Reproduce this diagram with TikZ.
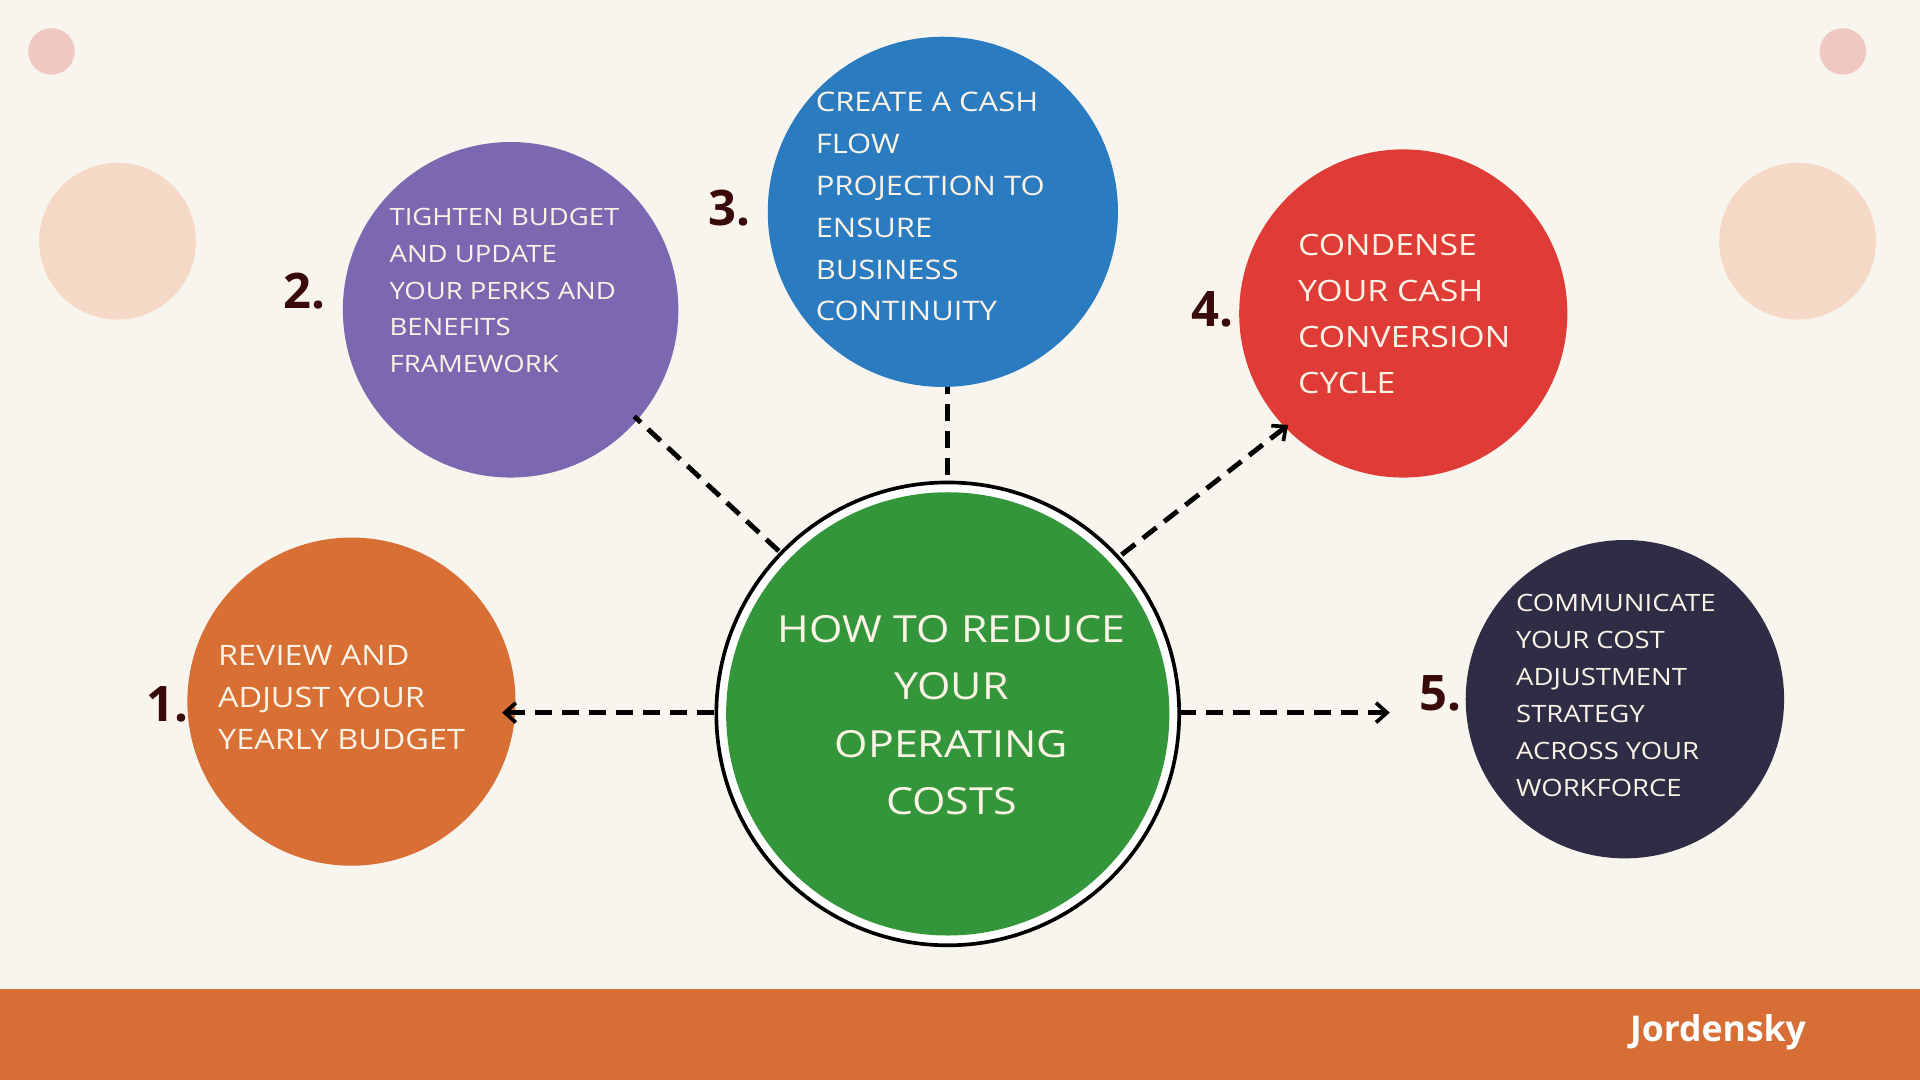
\documentclass[tikz,border=0pt]{standalone}
\usepackage{fontspec}
\setmainfont{Open Sans}
\newfontfamily\lab{Open Sans}[FakeStretch=1.15]
\usetikzlibrary{arrows.meta}
\definecolor{bg}{HTML}{F8F5EF}
\definecolor{bar}{HTML}{D66E35}
\definecolor{pinkc}{HTML}{F0C8C3}
\definecolor{peach}{HTML}{F5D9C6}
\definecolor{corange}{HTML}{D86F35}
\definecolor{cpurple}{HTML}{7B68B0}
\definecolor{cblue}{HTML}{2B7BC0}
\definecolor{cred}{HTML}{E03C37}
\definecolor{cdark}{HTML}{2E2D45}
\definecolor{cgreen}{HTML}{34963A}
\definecolor{numc}{HTML}{3A0A0A}
\definecolor{txt}{HTML}{FBF3E6}
\begin{document}
\begin{tikzpicture}[x=1pt,y=-1pt,
  disc/.style={circle,draw=none,inner sep=0pt},
  lbl/.style={text=txt,align=left,anchor=north west,inner sep=0pt},
  num/.style={text=numc,font=\fontsize{40}{40}\selectfont\bfseries,inner sep=0pt},
  conn/.style={line width=4pt,dash pattern=on 14pt off 8pt,black},
  arr/.style={-{Straight Barb[length=9pt,width=16pt,line width=3pt]}}]
\useasboundingbox (0,0) rectangle (1568,882);
\fill[bg] (0,0) rectangle (1568,882);
\fill[bar] (0,808) rectangle (1568,882);
\node[text=white,font=\fontsize{29}{29}\selectfont\bfseries] (brand) at (1403,843) {Jordensky};
\node[disc,fill=pinkc,minimum size=38pt] (p1) at (42,42) {};
\node[disc,fill=pinkc,minimum size=38pt] (p2) at (1505,42) {};
\node[disc,fill=peach,minimum size=128pt] (q1) at (96,197) {};
\node[disc,fill=peach,minimum size=128pt] (q2) at (1468,197) {};
% center
\node[circle,draw=black,line width=3pt,fill=white,minimum size=378pt,inner sep=0pt] (c) at (774,583) {};
\node[disc,fill=cgreen,minimum size=362pt] (cg) at (774,583) {};
\node[text=txt,align=center,font=\lab\fontsize{30.5}{47}\selectfont] (ct) at (777,584) {HOW TO REDUCE\\YOUR\\OPERATING\\COSTS};
% circles
\node[disc,fill=corange,minimum size=268pt] (o1) at (287,573) {};
\node[disc,fill=cpurple,minimum size=274pt] (o2) at (417,253) {};
\node[disc,fill=cblue,minimum size=286pt] (o3) at (770,173) {};
\node[disc,fill=cred,minimum size=268pt] (o4) at (1146,256) {};
\node[disc,fill=cdark,minimum size=260pt] (o5) at (1327,571) {};
\node[lbl,font=\lab\fontsize{23}{34}\selectfont] (t1) at (178,527) {REVIEW AND\\ADJUST YOUR\\YEARLY BUDGET};
\node[lbl,font=\lab\fontsize{19.5}{30}\selectfont] (t2) at (318,170) {TIGHTEN BUDGET\\AND UPDATE\\YOUR PERKS AND\\BENEFITS\\FRAMEWORK};
\node[lbl,font=\lab\fontsize{22}{34.2}\selectfont] (t3) at (666,75) {CREATE A CASH\\FLOW\\PROJECTION TO\\ENSURE\\BUSINESS\\CONTINUITY};
\node[lbl,font=\lab\fontsize{24}{37.6}\selectfont] (t4) at (1060,191) {CONDENSE\\YOUR CASH\\CONVERSION\\CYCLE};
\node[lbl,font=\lab\fontsize{19.5}{30.2}\selectfont] (t5) at (1238,485) {COMMUNICATE\\YOUR COST\\ADJUSTMENT\\STRATEGY\\ACROSS YOUR\\WORKFORCE};
\node[num] (n1) at (137,575) {1.};
\node[num] (n2) at (249,238) {2.};
\node[num] (n3) at (596,170) {3.};
\node[num] (n4) at (990,253) {4.};
\node[num] (n5) at (1176,566) {5.};
% connector end points
\coordinate (a1) at (583,582); \coordinate (b1) at (410,582);
\coordinate (a2) at (636,450); \coordinate (b2) at (518,340);
\coordinate (a3) at (774,388); \coordinate (b3) at (774,316);
\coordinate (a4) at (916,453); \coordinate (b4) at (1052,347);
\coordinate (a5) at (963,582); \coordinate (b5) at (1135,582);
\draw[conn,arr] (a1) -- (b1);
\draw[conn] (a2) -- (b2);
\draw[conn] (a3) -- (b3);
\draw[conn,arr] (a4) -- (b4);
\draw[conn,arr] (a5) -- (b5);
\end{tikzpicture}
\end{document}
